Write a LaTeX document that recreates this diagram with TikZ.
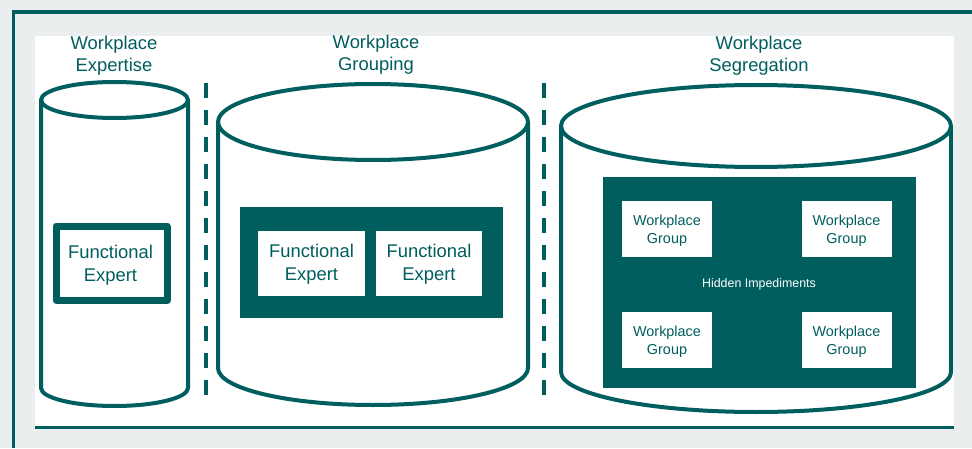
\documentclass[tikz,border=0pt]{standalone}
\usepackage{fontspec}
\setmainfont{Liberation Sans}
\definecolor{deepteal}{RGB}{0,94,94}
\definecolor{pagegray}{RGB}{235,238,239}
\begin{document}
\begin{tikzpicture}[x=1pt, y=1pt, line join=round,
  outline/.style={draw=deepteal, line width=4pt},
  divider/.style={draw=deepteal, line width=4pt, dash pattern=on 15pt off 12pt},
  frameline/.style={draw=deepteal, line width=3.5pt},
  heading/.style={text=deepteal, font=\fontsize{18.4}{22}\selectfont, align=center, inner sep=0pt, anchor=base},
  experttext/.style={text=deepteal, font=\fontsize{18.4}{23}\selectfont, align=center, inner sep=0pt, anchor=base},
  grouptext/.style={text=deepteal, font=\fontsize{14.4}{18}\selectfont, align=center, inner sep=0pt, anchor=base},
  whitebox/.style={fill=white, inner sep=0pt},
  groupbox/.style={whitebox, minimum width=90pt, minimum height=56pt},
  tealpanel/.style={fill=deepteal, inner sep=0pt}]
\useasboundingbox (0,0) rectangle (972,448);

% page background and white sheet
\fill[pagegray] (0,0) rectangle (972,448);
\fill[white] (35,22) rectangle (954,412);
\draw[frameline] (11.6,436.2) -- (972,436.2);
\draw[frameline] (13.3,438) -- (13.3,0);
\draw[frameline] (35,20.3) -- (954,20.3);

% headings (anchored at the baseline of their last line)
\node[heading] (h1) at (114,376) {Workplace\\Expertise};
\node[heading] (h2) at (376,377) {Workplace\\Grouping};
\node[heading] (h3) at (759,376) {Workplace\\Segregation};

% cylinders
\draw[outline] (114.5,348) ellipse [x radius=73.5pt, y radius=18pt];
\draw[outline] (41,348) -- (41,60)
  arc[start angle=180, end angle=360, x radius=73.5pt, y radius=18pt] -- (188,348);

\draw[outline] (373,326) ellipse [x radius=155pt, y radius=38pt];
\draw[outline] (218,326) -- (218,80)
  arc[start angle=180, end angle=360, x radius=155pt, y radius=37pt] -- (528,326);

\draw[outline] (756,322) ellipse [x radius=195pt, y radius=41pt];
\draw[outline] (561,322) -- (561,76)
  arc[start angle=180, end angle=360, x radius=195pt, y radius=40pt] -- (951,322);

% dashed dividers
\draw[divider] (205.5,365) -- (205.5,48);
\draw[divider] (543.5,365) -- (543.5,48);

% expertise: a single framed expert
\node[whitebox, draw=deepteal, line width=7pt, minimum width=111pt, minimum height=74.5pt]
  (fe1) at (111.5,184.75) {};
\node[experttext] (fe1t) at (110.5,167) {Functional\\Expert};

% grouping: two experts on a shared panel
\node[tealpanel, minimum width=263pt, minimum height=111pt] (grp) at (371.5,185.5) {};
\node[whitebox, minimum width=107pt, minimum height=65pt] (fe2) at (311.5,184.5) {};
\node[whitebox, minimum width=106pt, minimum height=65pt] (fe3) at (429,184.5) {};
\node[experttext] (fe2t) at (311.5,167.5) {Functional\\Expert};
\node[experttext] (fe3t) at (429,167.5) {Functional\\Expert};

% segregation: four groups separated by hidden impediments
\node[tealpanel, minimum width=313pt, minimum height=211pt] (seg) at (759.5,165.5) {};
\node[groupbox] (wg1) at (667,219) {};
\node[groupbox] (wg2) at (846.5,219) {};
\node[groupbox] (wg3) at (667,108.5) {};
\node[groupbox] (wg4) at (846.5,108.5) {};
\node[grouptext] (wg1t) at (667,205) {Workplace\\Group};
\node[grouptext] (wg2t) at (846.5,205) {Workplace\\Group};
\node[grouptext] (wg3t) at (667,94) {Workplace\\Group};
\node[grouptext] (wg4t) at (846.5,94) {Workplace\\Group};
\node[text=white, font=\fontsize{12.4}{15}\selectfont, inner sep=0pt, anchor=base]
  (hid) at (759,161) {Hidden Impediments};
\end{tikzpicture}
\end{document}
